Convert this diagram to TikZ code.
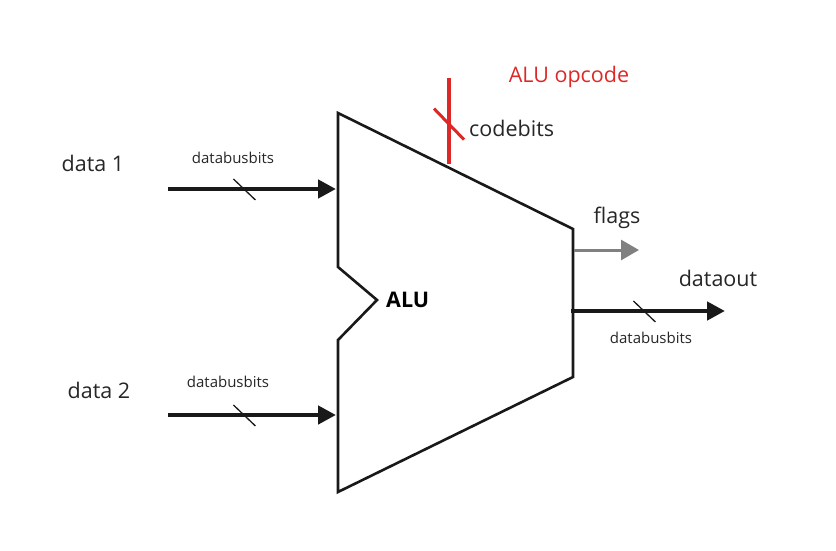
\documentclass[tikz,border=0pt]{standalone}
\usepackage{fontspec}
\setmainfont{Open Sans}
\usepackage{xcolor}
\usepackage{tikz}
\usetikzlibrary{calc}
\usetikzlibrary{positioning}
\usetikzlibrary{arrows.meta}
\definecolor{opred}{RGB}{222,40,40}
\definecolor{flaggray}{RGB}{128,128,128}
\tikzset{
  aluline/.style={
    draw=black!90,
    line width=2.6pt,
    line join=miter,
  },
  busarrow/.style={
    draw=black!90,
    line width=4.8pt,
    -{Triangle[length=18pt,width=18pt]},
  },
  flagarrow/.style={
    draw=flaggray,
    line width=3pt,
    -{Triangle[length=18pt,width=20pt]},
  },
  codeline/.style={
    draw=opred,
    line width=4pt,
  },
  busslash/.style={
    draw=black!90,
    line width=1.3pt,
  },
  codeslash/.style={
    draw=opred,
    line width=3pt,
  },
  biglabel/.style={
    inner sep=0pt,
    font=\fontsize{21.5}{24}\selectfont,
    text=black!85,
  },
  smalllabel/.style={
    inner sep=0pt,
    font=\fontsize{15}{17}\selectfont,
    text=black!85,
  },
}

\begin{document}
\begin{tikzpicture}[x=1pt,y=-1pt]
    \useasboundingbox (0,0) rectangle (836,551);

    % ALU outline
    \coordinate (topleft) at (338,113);
    \coordinate (topright) at (573,229);
    \coordinate (botright) at (573,377);
    \coordinate (botleft) at (338,492);
    \coordinate (notchtop) at (338,267);
    \coordinate (notchtip) at (377,300);
    \coordinate (notchbot) at (338,340);
    \draw[aluline] (topleft) -- (topright) -- (botright) -- (botleft)
        -- (notchbot) -- (notchtip) -- (notchtop) -- cycle;
    \node[inner sep=0pt, font=\fontsize{21.5}{24}\selectfont\bfseries] (alu) [right=9pt of notchtip] {ALU};

    % inputs
    \coordinate (srcone) at (168,189);
    \coordinate (dstone) at (336,189);
    \coordinate (srctwo) at (168,415);
    \coordinate (dsttwo) at (336,415);
    \node[biglabel] (dataone) at (93,163) {data 1};
    \node[biglabel] (datatwo) at (99,390) {data 2};
    \draw[busarrow] (srcone) -- (dstone);
    \draw[busarrow] (srctwo) -- (dsttwo);
    \draw[busslash] ($(srcone)!0.455!(dstone)$) +(-11,-10) -- +(11,11);
    \draw[busslash] ($(srctwo)!0.455!(dsttwo)$) +(-11,-10) -- +(11,11);
    \node[smalllabel] (busone) at (233,158) {databusbits};
    \node[smalllabel] (bustwo) at (228,382) {databusbits};

    % opcode
    \coordinate (codetop) at (449,78);
    \coordinate (codebot) at (449,164);
    \draw[codeline] (codetop) -- (codebot);
    \draw[codeslash] ($(codetop)!0.53!(codebot)$) +(-15,-15) -- +(15,16);
    \node[biglabel, text=opred] (opcode) at (569,77) {ALU opcode};
    \node[biglabel, anchor=west] (codebits) at (469,128) {codebits};

    % outputs
    \coordinate (flagsrc) at (574,250);
    \coordinate (flagdst) at (639,250);
    \coordinate (outsrc) at (571,311);
    \coordinate (outdst) at (725,311);
    \draw[flagarrow] (flagsrc) -- (flagdst);
    \draw[busarrow] (outsrc) -- (outdst);
    \draw[busslash] ($(outsrc)!0.477!(outdst)$) +(-11,-10) -- +(11,11);
    \node[biglabel] (flags) at (617,218) {flags};
    \node[biglabel] (dataout) at (718,278) {dataout};
    \node[smalllabel] (busout) at (651,338) {databusbits};
\end{tikzpicture}
\end{document}
